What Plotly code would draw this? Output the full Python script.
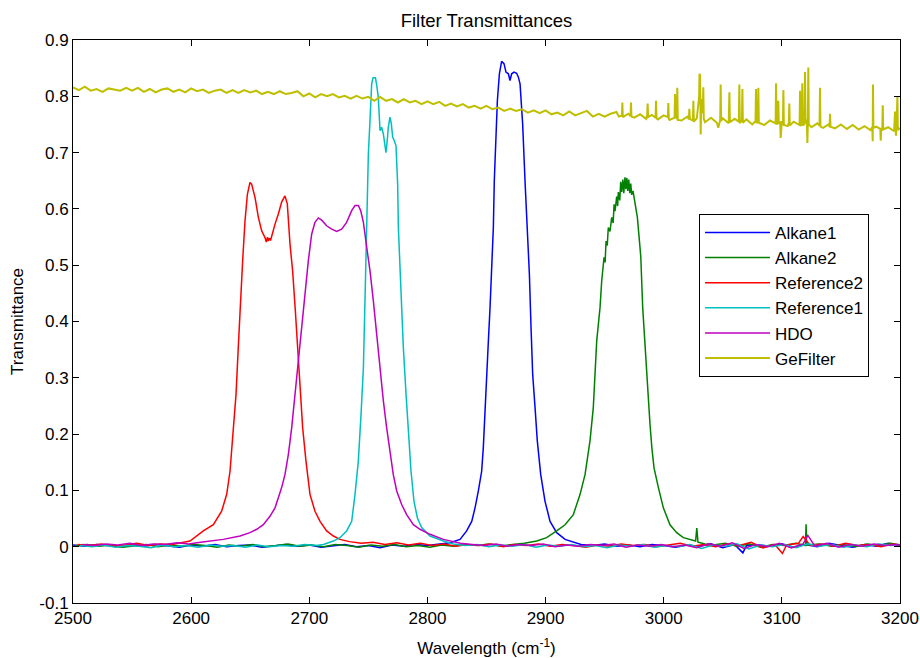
import plotly.graph_objects as go

# ---------------- data (wavenumber in cm^-1, transmittance) ----------------
ALKANE1_WN = [2500, 2510, 2520, 2530, 2540, 2550, 2560, 2570, 2580, 2590,
              2600, 2610, 2620, 2630, 2640, 2650, 2660, 2670, 2680, 2690,
              2700, 2710, 2720, 2730, 2740, 2750, 2760, 2770, 2780, 2790,
              2800, 2810,
              2819.1, 2827.6, 2833.2, 2837.5, 2840.3, 2843.1, 2845.9, 2847.3, 2848.7, 2850.2,
              2851.6, 2853.0, 2854.4, 2855.8, 2856.6, 2857.8, 2859.2, 2860.9, 2862.8, 2864.8,
              2866.5, 2868.5, 2869.9, 2871.3, 2873.3, 2875.5, 2877.0, 2878.4, 2879.2, 2880.6,
              2882.6, 2884.6, 2886.3, 2887.7, 2889.1, 2891.1, 2893.0, 2895.9, 2899.5, 2903.8,
              2909.4, 2916.5, 2926.3,
              2930, 2940, 2950, 2960, 2970, 2980, 2990, 3000, 3010, 3020,
              3030, 3040, 3050, 3060, 3067, 3070, 3080, 3090, 3100, 3110,
              3120, 3130, 3140, 3150, 3160, 3170, 3180, 3190, 3200]
ALKANE1_T = [0.003, 0.001, 0.004, 0.002, 0.000, 0.003, 0.001, 0.004, 0.002, -0.001,
             0.003, 0.001, 0.004, 0.000, 0.002, 0.003, -0.001, 0.002, 0.004, 0.001,
             0.003, -0.001, 0.002, 0.004, 0.000, 0.002, -0.002, 0.003, 0.001, 0.004,
             0.002, 0.005,
             0.007, 0.013, 0.028, 0.045, 0.069, 0.099, 0.134, 0.176, 0.247, 0.306,
             0.366, 0.425, 0.496, 0.567, 0.650, 0.721, 0.792, 0.840, 0.862, 0.858,
             0.843, 0.840, 0.828, 0.840, 0.843, 0.841, 0.834, 0.822, 0.798, 0.751,
             0.650, 0.567, 0.484, 0.389, 0.306, 0.247, 0.188, 0.128, 0.081, 0.045,
             0.025, 0.013, 0.007,
             0.004, 0.002, 0.005, 0.001, 0.003, 0.000, 0.004, 0.002, -0.001, 0.003,
             0.001, 0.005, -0.002, 0.004, -0.011, 0.002, 0.003, 0.001, 0.005, -0.001,
             0.004, 0.000, 0.006, 0.002, -0.001, 0.004, 0.001, 0.006, 0.002]

ALKANE2_WN = [2502, 2512, 2522, 2532, 2542, 2552, 2562, 2572, 2582, 2592,
              2602, 2612, 2622, 2632, 2642, 2652, 2662, 2672, 2682, 2692,
              2702, 2712, 2722, 2732, 2742, 2752, 2762, 2772, 2782, 2792,
              2802, 2812, 2822, 2832, 2842, 2852, 2862, 2872, 2882,
              2892.5, 2900.9, 2909.4, 2916.5, 2923.5, 2929.2, 2933.4, 2937.6, 2940.4, 2941.8,
              2943.3, 2946.1, 2947.5, 2949.5, 2950.4, 2951.2, 2952.2, 2953.1, 2954.5, 2956.0,
              2957.2, 2958.0, 2958.8, 2960.2, 2961.0, 2961.6, 2962.8, 2963.6, 2964.4, 2965.4,
              2966.2, 2967.2, 2968.0, 2968.8, 2969.6, 2970.4, 2971.3, 2972.1, 2972.9, 2974.0,
              2975.7, 2976.8, 2977.7, 2979.9, 2980.6, 2982.2, 2985.6, 2988.4, 2990.0, 2991.8,
              2995.5, 2999.7, 3005.3, 3011.0, 3016.6, 3022.3,
              3027, 3028, 3029, 3035, 3042, 3052, 3062, 3072, 3082, 3092,
              3102, 3112, 3120, 3120.5, 3121, 3132, 3142, 3152, 3162, 3172,
              3182, 3192, 3200]
ALKANE2_T = [0.002, 0.004, 0.001, 0.003, -0.001, 0.002, 0.004, 0.000, 0.003, 0.001,
             0.004, 0.002, -0.001, 0.003, 0.001, 0.004, 0.000, 0.002, 0.005, 0.001,
             0.003, 0.000, 0.004, 0.002, -0.001, 0.003, 0.001, 0.004, 0.000, 0.002,
             -0.001, 0.003, 0.001, 0.004, 0.002, 0.005, 0.001, 0.004, 0.006,
             0.010, 0.016, 0.028, 0.039, 0.057, 0.093, 0.128, 0.188, 0.247, 0.306,
             0.366, 0.425, 0.472, 0.514, 0.505, 0.543, 0.535, 0.567, 0.560, 0.585,
             0.575, 0.608, 0.596, 0.622, 0.605, 0.630, 0.615, 0.648, 0.630, 0.652,
             0.628, 0.656, 0.635, 0.655, 0.632, 0.652, 0.628, 0.645, 0.625, 0.632,
             0.612, 0.600, 0.585, 0.532, 0.515, 0.425, 0.306, 0.217, 0.175, 0.140,
             0.105, 0.069, 0.039, 0.025, 0.016, 0.013,
             0.010, 0.033, 0.008, 0.005, 0.003, 0.006, 0.001, 0.005, -0.001, 0.004,
             0.002, 0.006, 0.002, 0.040, 0.003, 0.005, 0.001, 0.004, 0.000, 0.005,
             0.002, 0.006, 0.003]

REFERENCE2_WN = [2504, 2514, 2524, 2534, 2544, 2554, 2564, 2574, 2584, 2594,
                 2599.0, 2610.3, 2618.8, 2625.8, 2630.1, 2632.9, 2635.7, 2638.0, 2639.9, 2641.9,
                 2643.6, 2645.6, 2647.6, 2649.8, 2651.2, 2654.1, 2656.9, 2659.7, 2662.5, 2663.6,
                 2664.6, 2665.3, 2666.4, 2667.2, 2668.2, 2671.0, 2673.8, 2676.6, 2679.4, 2681.4,
                 2683.7, 2685.9, 2688.2, 2689.9, 2692.1, 2694.4, 2697.2, 2700.6, 2704.8, 2709.1,
                 2714.7, 2720.4, 2726.0,
                 2734, 2744, 2754, 2764, 2774, 2784, 2794, 2804, 2814, 2824,
                 2834, 2844, 2854, 2864, 2874, 2884, 2894, 2904, 2914, 2924,
                 2934, 2944, 2954, 2964, 2974, 2984, 2994, 3004, 3014, 3024,
                 3034, 3044, 3054, 3064, 3074, 3084, 3094, 3100.5, 3104, 3114,
                 3118, 3124, 3134, 3144, 3154, 3164, 3174, 3184, 3194, 3200]
REFERENCE2_T = [0.004, 0.002, 0.005, 0.001, 0.003, 0.006, 0.002, 0.005, 0.004, 0.008,
                0.010, 0.028, 0.039, 0.063, 0.093, 0.134, 0.211, 0.271, 0.354, 0.449,
                0.508, 0.579, 0.626, 0.647, 0.644, 0.620, 0.585, 0.561, 0.549, 0.541,
                0.550, 0.543, 0.548, 0.544, 0.552, 0.573, 0.591, 0.612, 0.623, 0.609,
                0.537, 0.490, 0.419, 0.360, 0.271, 0.211, 0.152, 0.093, 0.063, 0.045,
                0.028, 0.019, 0.013,
                0.009, 0.006, 0.008, 0.004, 0.007, 0.003, 0.006, 0.002, 0.005, 0.001,
                0.004, 0.002, 0.005, 0.000, 0.004, 0.002, 0.005, 0.001, 0.004, 0.002,
                -0.001, 0.003, 0.001, 0.005, 0.002, 0.004, 0.000, 0.003, 0.006, 0.001,
                0.004, 0.000, 0.005, 0.002, 0.008, -0.002, 0.004, -0.012, 0.003, 0.006,
                0.018, 0.002, 0.005, 0.001, 0.006, 0.002, 0.004, 0.000, 0.005, 0.003]

REFERENCE1_WN = [2506, 2516, 2526, 2536, 2546, 2556, 2566, 2576, 2586, 2596,
                 2606, 2616, 2626, 2636, 2646, 2656, 2666, 2676, 2686, 2696,
                 2706,
                 2711.9, 2720.4, 2726.0, 2731.6, 2735.9, 2738.7, 2741.5, 2743.8, 2745.8, 2748.0,
                 2750.0, 2751.4, 2752.8, 2754.0, 2756.0, 2757.2, 2758.4, 2759.9, 2761.2, 2762.7,
                 2764.9, 2766.0, 2766.9, 2768.3, 2769.4, 2770.6, 2771.8, 2773.4, 2774.0, 2774.8,
                 2775.4, 2777.4, 2779.6, 2781.9, 2783.8, 2786.1, 2788.6, 2791.5, 2795.1, 2802.2,
                 2813.5,
                 2822, 2832, 2842, 2852, 2862, 2872, 2882, 2892, 2902, 2912,
                 2922, 2932, 2942, 2952, 2962, 2972, 2982, 2992, 3002, 3012,
                 3022, 3032, 3042, 3052, 3062, 3072, 3082, 3092, 3102, 3112,
                 3122, 3132, 3142, 3152, 3162, 3172, 3182, 3192, 3200]
REFERENCE1_T = [0.002, 0.000, 0.003, -0.001, 0.002, 0.001, -0.002, 0.003, 0.000, 0.002,
                -0.001, 0.003, 0.001, 0.002, -0.001, 0.003, 0.000, 0.002, 0.001, 0.004,
                0.002,
                0.004, 0.010, 0.016, 0.028, 0.045, 0.093, 0.152, 0.235, 0.318, 0.514,
                0.698, 0.757, 0.822, 0.833, 0.833, 0.818, 0.798, 0.739, 0.745, 0.733,
                0.700, 0.722, 0.745, 0.763, 0.752, 0.727, 0.722, 0.712, 0.686, 0.644,
                0.567, 0.460, 0.354, 0.271, 0.200, 0.134, 0.081, 0.051, 0.034, 0.019,
                0.010,
                0.005, 0.002, 0.004, 0.000, 0.003, 0.001, 0.004, -0.001, 0.003, 0.001,
                0.004, 0.000, 0.002, -0.002, 0.003, 0.001, 0.004, -0.001, 0.002, 0.000,
                0.004, -0.003, 0.003, 0.001, 0.005, -0.004, 0.003, 0.000, 0.004, -0.002,
                0.005, 0.001, 0.004, -0.001, 0.003, 0.000, 0.005, 0.002, 0.004]

HDO_WN = [2508, 2518, 2528, 2538, 2548, 2558, 2568, 2578, 2588, 2598, 2608,
          2616.0, 2627.2, 2641.4, 2649.8, 2655.5, 2661.1, 2666.7, 2671.0, 2673.8, 2676.6,
          2679.4, 2682.3, 2685.1, 2687.9, 2690.7, 2693.6, 2696.4, 2699.2, 2702.0, 2704.8,
          2707.7, 2710.5, 2714.7, 2719.0, 2723.2, 2727.4, 2731.6, 2735.9, 2738.7, 2741.5,
          2743.5, 2745.8, 2748.6, 2751.4, 2754.2, 2757.0, 2759.9, 2762.7, 2765.5, 2768.3,
          2771.1, 2774.0, 2778.2, 2782.4, 2788.1, 2793.7, 2802.2, 2813.5, 2819.1,
          2828, 2838, 2848, 2858, 2868, 2878, 2888, 2898, 2908, 2918,
          2928, 2938, 2948, 2958, 2968, 2978, 2988, 2998, 3008, 3018,
          3028, 3038, 3048, 3058, 3068, 3078, 3088, 3098, 3108, 3118,
          3122, 3128, 3138, 3148, 3158, 3168, 3178, 3188, 3198, 3200]
HDO_T = [0.004, 0.002, 0.005, 0.003, 0.006, 0.002, 0.005, 0.004, 0.007, 0.005, 0.008,
         0.010, 0.013, 0.019, 0.025, 0.031, 0.039, 0.054, 0.069, 0.087, 0.105,
         0.128, 0.164, 0.211, 0.271, 0.330, 0.389, 0.449, 0.508, 0.555, 0.576,
         0.584, 0.580, 0.570, 0.564, 0.560, 0.564, 0.576, 0.597, 0.606, 0.606,
         0.597, 0.576, 0.532, 0.490, 0.437, 0.377, 0.318, 0.259, 0.211, 0.170,
         0.128, 0.099, 0.075, 0.057, 0.039, 0.031, 0.022, 0.013, 0.010,
         0.006, 0.004, 0.002, 0.005, 0.001, 0.004, 0.002, 0.005, 0.000, 0.003,
         0.001, 0.004, 0.002, 0.005, -0.001, 0.003, 0.001, 0.004, 0.000, 0.003,
         -0.002, 0.005, 0.001, 0.007, -0.003, 0.004, 0.000, 0.006, -0.002, 0.005,
         0.020, 0.001, 0.006, -0.001, 0.004, 0.001, 0.005, 0.002, 0.004, 0.003]

GEFILTER_WN = [2500, 2505, 2510, 2515, 2520, 2525, 2530, 2535, 2540, 2545,
               2550, 2555, 2560, 2565, 2570, 2575, 2580, 2585, 2590, 2595,
               2600, 2605, 2610, 2615, 2620, 2625, 2630, 2635, 2640, 2645,
               2650, 2655, 2660, 2665, 2670, 2675, 2680, 2685, 2690, 2695,
               2700, 2705, 2710, 2715, 2720, 2725, 2730, 2735, 2740, 2745,
               2750, 2755, 2760, 2765, 2770, 2775, 2780, 2785, 2790, 2795,
               2800, 2805, 2810, 2815, 2820, 2825, 2830, 2835, 2840, 2845,
               2850, 2855, 2860, 2865, 2870, 2875, 2880, 2885, 2890, 2895,
               2900, 2905, 2910, 2915, 2920, 2925, 2930, 2935, 2940, 2945,
               2950, 2955, 2960,
               2962, 2964.6, 2965.0, 2965.4, 2970, 2971.9, 2972.3, 2972.7, 2975, 2980,
               2985, 2986.0, 2986.4, 2986.8, 2990, 2993.1, 2993.5, 2993.9, 2995, 3000,
               3003.5, 3003.9, 3004.3, 3005, 3009.2, 3009.6, 3010.0, 3011.1, 3011.5, 3011.9,
               3015, 3020, 3021.3, 3021.7, 3022.1, 3024.7, 3025.1, 3025.5, 3028, 3029.5,
               3030.0, 3030.3, 3030.7, 3031.0, 3031.3, 3031.7, 3032.2, 3033.1, 3033.5, 3033.9,
               3035, 3040, 3045, 3046.2, 3047.8, 3048.2, 3048.6, 3050, 3055, 3055.6,
               3056.0, 3060, 3063.6, 3064.0, 3064.4, 3066.2, 3066.6, 3067.0, 3070, 3075,
               3077.7, 3078.1, 3078.5, 3079.7, 3080.1, 3080.5, 3085, 3090, 3094.7, 3095.1,
               3095.5, 3096.6, 3097.0, 3097.4, 3098.6, 3099.0, 3099.4, 3100, 3100.9, 3101.3,
               3101.7, 3105, 3105.9, 3106.3, 3106.7, 3110, 3115.0, 3115.4, 3115.8, 3116.9,
               3117.3, 3117.7, 3119.2, 3119.6, 3120.0, 3120.5, 3121.2, 3121.6, 3122.0, 3122.4,
               3122.8, 3125, 3130, 3131.9, 3132.3, 3132.7, 3135, 3140, 3140.4, 3140.8,
               3141.2, 3145, 3150, 3155, 3160, 3165, 3170, 3175, 3176.5, 3176.9,
               3177.1, 3177.5, 3180, 3183.3, 3183.7, 3184.1, 3185, 3185.4, 3185.8, 3190,
               3195, 3195.8, 3196.2, 3196.6, 3197.0, 3197.8, 3198.2, 3200]
GEFILTER_T = [0.816, 0.811, 0.817, 0.810, 0.813, 0.808, 0.814, 0.812, 0.810, 0.815,
              0.810, 0.815, 0.808, 0.813, 0.807, 0.812, 0.814, 0.808, 0.812, 0.807,
              0.814, 0.809, 0.812, 0.806, 0.810, 0.812, 0.806, 0.811, 0.806, 0.811,
              0.807, 0.810, 0.804, 0.808, 0.804, 0.809, 0.804, 0.806, 0.809, 0.800,
              0.805, 0.798, 0.804, 0.800, 0.804, 0.798, 0.801, 0.796, 0.801, 0.796,
              0.799, 0.792, 0.799, 0.792, 0.795, 0.789, 0.795, 0.789, 0.792, 0.786,
              0.791, 0.786, 0.790, 0.783, 0.787, 0.782, 0.786, 0.780, 0.783, 0.778,
              0.783, 0.777, 0.780, 0.774, 0.778, 0.774, 0.777, 0.771, 0.775, 0.770,
              0.775, 0.768, 0.771, 0.766, 0.773, 0.766, 0.770, 0.774, 0.764, 0.769,
              0.764, 0.769, 0.772,
              0.764, 0.766, 0.789, 0.763, 0.769, 0.765, 0.789, 0.764, 0.762, 0.768,
              0.760, 0.766, 0.787, 0.763, 0.767, 0.762, 0.792, 0.761, 0.759, 0.766,
              0.763, 0.788, 0.760, 0.758, 0.762, 0.804, 0.765, 0.760, 0.815, 0.758,
              0.757, 0.764, 0.759, 0.778, 0.760, 0.757, 0.792, 0.755, 0.761, 0.790,
              0.800, 0.840, 0.838, 0.800, 0.732, 0.790, 0.795, 0.770, 0.816, 0.760,
              0.754, 0.762, 0.753, 0.744, 0.758, 0.821, 0.756, 0.761, 0.752, 0.807,
              0.754, 0.760, 0.755, 0.821, 0.752, 0.758, 0.813, 0.753, 0.759, 0.750,
              0.756, 0.813, 0.752, 0.757, 0.815, 0.753, 0.749, 0.757, 0.752, 0.823,
              0.750, 0.754, 0.792, 0.751, 0.755, 0.726, 0.752, 0.756, 0.750, 0.811,
              0.749, 0.747, 0.753, 0.787, 0.748, 0.755, 0.749, 0.810, 0.747, 0.752,
              0.823, 0.748, 0.751, 0.843, 0.760, 0.754, 0.751, 0.717, 0.752, 0.851,
              0.750, 0.745, 0.752, 0.748, 0.815, 0.746, 0.744, 0.751, 0.745, 0.769,
              0.746, 0.743, 0.750, 0.742, 0.749, 0.741, 0.747, 0.740, 0.745, 0.720,
              0.821, 0.744, 0.746, 0.742, 0.721, 0.744, 0.739, 0.784, 0.741, 0.745,
              0.738, 0.773, 0.742, 0.730, 0.741, 0.800, 0.740, 0.744]

SERIES_NAMES = ["Alkane1", "Alkane2", "Reference2", "Reference1", "HDO", "GeFilter"]
SERIES_COLORS = ["#0000FF", "#008000", "#FF0000", "#00BFBF", "#BF00BF", "#BFBF00"]
SERIES_WIDTHS = [1.5, 1.5, 1.5, 1.5, 1.5, 2.0]

X_TICKS = [2500, 2600, 2700, 2800, 2900, 3000, 3100, 3200]
Y_TICKS = [-0.1, 0.0, 0.1, 0.2, 0.3, 0.4, 0.5, 0.6, 0.7, 0.8, 0.9]
Y_TICK_TEXT = ["-0.1", "0", "0.1", "0.2", "0.3", "0.4", "0.5", "0.6", "0.7", "0.8", "0.9"]

series = [(ALKANE1_WN, ALKANE1_T), (ALKANE2_WN, ALKANE2_T), (REFERENCE2_WN, REFERENCE2_T),
          (REFERENCE1_WN, REFERENCE1_T), (HDO_WN, HDO_T), (GEFILTER_WN, GEFILTER_T)]
for (wn, t), name in zip(series, SERIES_NAMES):
    assert len(wn) == len(t), (name, len(wn), len(t))

FONT = "Liberation Sans, Arial, Helvetica, sans-serif"

fig = go.Figure()
for (wn, t), name, color, lw in zip(series, SERIES_NAMES, SERIES_COLORS, SERIES_WIDTHS):
    fig.add_trace(go.Scatter(x=wn, y=t, mode="lines", name=name,
                             line=dict(color=color, width=lw)))

axis_common = dict(showline=True, linecolor="black", linewidth=1, mirror="ticks",
                   ticks="inside", ticklen=6, tickcolor="black", tickwidth=1,
                   showgrid=False, zeroline=False, automargin=False,
                   tickfont=dict(family=FONT, size=17, color="black"))

fig.update_xaxes(range=[2500, 3200], tickvals=X_TICKS,
                 title=dict(text="Wavelength (cm<sup>-1</sup>)", standoff=16,
                            font=dict(family=FONT, size=17, color="black")),
                 **axis_common)
fig.update_yaxes(range=[-0.1, 0.9], tickvals=Y_TICKS, ticktext=Y_TICK_TEXT,
                 title=dict(text="Transmittance", standoff=11,
                            font=dict(family=FONT, size=17, color="black")),
                 **axis_common)

fig.update_layout(
    width=920, height=658,
    margin=dict(l=73, r=20, t=40, b=55),
    paper_bgcolor="white", plot_bgcolor="white",
    font=dict(family=FONT, size=17, color="black"),
    title=dict(text="Filter Transmittances", x=0.5, xref="paper", xanchor="center",
               y=1 - 20.5 / 658, yref="container", yanchor="middle",
               font=dict(family=FONT, size=18.5, color="black")),
    showlegend=True,
    legend=dict(x=0.757, y=0.691, xanchor="left", yanchor="top",
                bgcolor="white", bordercolor="black", borderwidth=1,
                font=dict(family=FONT, size=17, color="black"),
                itemwidth=65, tracegroupgap=0),
)

fig.write_html("out.html")
